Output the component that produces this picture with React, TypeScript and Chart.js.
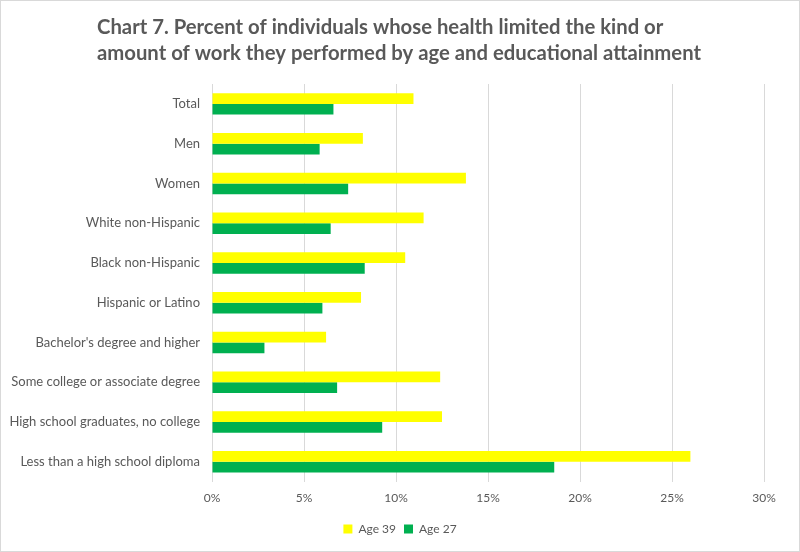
import React, { useEffect, useRef } from "react";
import { Chart, registerables } from "chart.js";

Chart.register(...registerables);

const categories = [
  "Total",
  "Men",
  "Women",
  "White non-Hispanic",
  "Black non-Hispanic",
  "Hispanic or Latino",
  "Bachelor's degree and higher",
  "Some college or associate degree",
  "High school graduates, no college",
  "Less than a high school diploma",
];

const age39 = [10.95, 8.2, 13.8, 11.5, 10.5, 8.1, 6.2, 12.4, 12.5, 26.0];
const age27 = [6.6, 5.85, 7.4, 6.45, 8.3, 6.0, 2.85, 6.8, 9.25, 18.6];

const xTicks = [0, 5, 10, 15, 20, 25, 30];

const titleLines = [
  "Chart 7. Percent of individuals whose health limited the kind or",
  "amount of work they performed by age and educational attainment",
];

const FONT = "Lato, 'Open Sans', sans-serif";

export default function App() {
  const ref = useRef<HTMLCanvasElement | null>(null);

  useEffect(() => {
    document.body.style.margin = "0";
    const canvas = ref.current;
    if (!canvas) return;

    const titlePlugin = {
      id: "customTitle",
      afterDraw(chart: any) {
        const ctx = chart.ctx;
        ctx.save();
        ctx.fillStyle = "#595959";
        ctx.font = `bold 20.3px ${FONT}`;
        ctx.textBaseline = "middle";
        ctx.textAlign = "left";
        ctx.fillText(titleLines[0], 96, 26);
        ctx.fillText(titleLines[1], 96, 52);
        ctx.restore();
      },
    };

    const chart = new Chart(canvas, {
      type: "bar",
      data: {
        labels: categories,
        datasets: [
          {
            label: "Age 39",
            data: age39,
            backgroundColor: "#FFFF00",
            borderWidth: 0,
            barPercentage: 1,
            categoryPercentage: 0.54,
          },
          {
            label: "Age 27",
            data: age27,
            backgroundColor: "#00B050",
            borderWidth: 0,
            barPercentage: 1,
            categoryPercentage: 0.54,
          },
        ],
      },
      plugins: [titlePlugin],
      options: {
        indexAxis: "y",
        animation: false,
        responsive: false,
        maintainAspectRatio: false,
        layout: { padding: { top: 83, right: 0, bottom: 6, left: 0 } },
        scales: {
          x: {
            min: 0,
            max: 30,
            afterBuildTicks(axis: any) {
              axis.ticks = xTicks.map((v) => ({ value: v }));
            },
            ticks: {
              color: "#595959",
              font: { family: FONT, size: 12 },
              padding: 9.5,
              callback: (v: any) => `${v}%`,
            },
            grid: {
              color: "#D9D9D9",
              lineWidth: 1,
              drawTicks: false,
            },
            border: { display: false },
          },
          y: {
            afterFit(axis: any) {
              axis.width = 211;
            },
            ticks: {
              color: "#595959",
              font: { family: FONT, size: 13 },
              padding: 12,
            },
            grid: { display: false, drawTicks: false },
            border: { display: false },
          },
          yPad: {
            type: "linear",
            position: "right",
            display: true,
            afterFit(axis: any) {
              axis.width = 35;
            },
            ticks: { display: false },
            grid: { display: false, drawTicks: false },
            border: { display: false },
          },
        },
        plugins: {
          legend: {
            position: "bottom",
            labels: {
              color: "#595959",
              font: { family: FONT, size: 12 },
              boxWidth: 9,
              boxHeight: 9,
              padding: 8,
            },
          },
          tooltip: { enabled: false },
          title: { display: false },
        },
      },
    });

    return () => chart.destroy();
  }, []);

  return (
    <div
      style={{
        width: 800,
        height: 552,
        boxSizing: "border-box",
        border: "1px solid #D9D9D9",
        position: "relative",
        background: "#fff",
      }}
    >
      <canvas
        ref={ref}
        width={798}
        height={550}
        style={{ width: 798, height: 550, display: "block" }}
      />
    </div>
  );
}
